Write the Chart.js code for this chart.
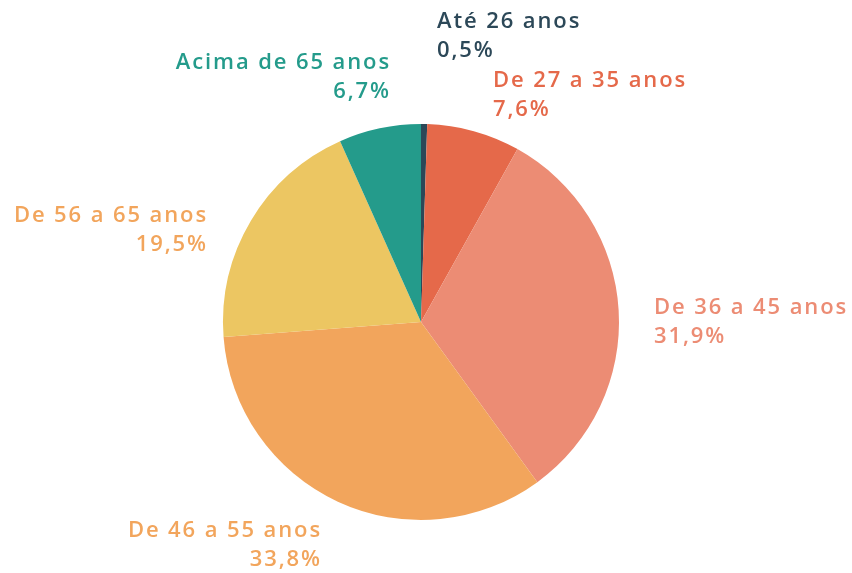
<!DOCTYPE html>
<html>
<head>
<meta charset="utf-8">
<script src="https://cdn.jsdelivr.net/npm/chart.js@4"></script>
<style>
  html, body { margin: 0; padding: 0; background: #fff; }
  #wrap { width: 852px; height: 573px; position: relative; }
</style>
</head>
<body>
<div id="wrap"><canvas id="ageChart"></canvas></div>
<script>
const labels = ['Até 26 anos', 'De 27 a 35 anos', 'De 36 a 45 anos', 'De 46 a 55 anos', 'De 56 a 65 anos', 'Acima de 65 anos'];
const percents = [0.5, 7.6, 31.9, 33.8, 19.5, 6.7];
const sliceColors = ['#2c4858', '#e5694a', '#ec8c74', '#f2a55c', '#ecc662', '#249b8b'];
const textColors = ['#2c4858', '#e5694a', '#ec8c74', '#f2a55c', '#f2a55c', '#249b8b'];

// label placement relative to pie centre: [dx, dy of first line, align]
const labelPos = [
    [16, -300, 'left'],
    [72, -241, 'left'],
    [233, -14, 'left'],
    [-99, 209, 'right'],
    [-213, -106, 'right'],
    [-30, -259, 'right']
];

const outsideLabels = {
    id: 'outsideLabels',
    afterDraw(chart) {
        const ctx = chart.ctx;
        const arc = chart.getDatasetMeta(0).data[0];
        const cx = arc.x, cy = arc.y;
        ctx.save();
        ctx.font = '600 22px "Open Sans", sans-serif';
        ctx.letterSpacing = '1.9px';
        ctx.textBaseline = 'middle';
        labels.forEach((name, i) => {
            const [dx, dy, align] = labelPos[i];
            ctx.fillStyle = textColors[i];
            ctx.textAlign = align;
            ctx.fillText(name, cx + dx, cy + dy);
            ctx.fillText(percents[i].toFixed(1).replace('.', ',') + '%', cx + dx, cy + dy + 29);
        });
        ctx.restore();
    }
};

function renderChart() {
    const ctx = document.getElementById('ageChart').getContext('2d');
    new Chart(ctx, {
        type: 'pie',
        data: {
            labels: labels,
            datasets: [{
                data: percents,
                backgroundColor: sliceColors,
                borderWidth: 0
            }]
        },
        options: {
            responsive: true,
            maintainAspectRatio: false,
            animation: false,
            layout: { padding: { left: 223, right: 233, top: 124, bottom: 53 } },
            plugins: {
                legend: { display: false },
                tooltip: { enabled: false }
            }
        },
        plugins: [outsideLabels]
    });
}

document.addEventListener('DOMContentLoaded', renderChart);
</script>
</body>
</html>
